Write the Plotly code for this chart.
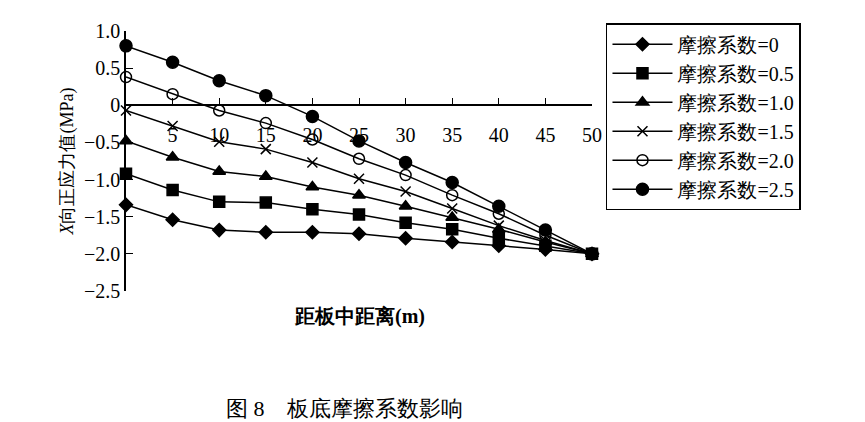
import plotly.graph_objects as go

x = [0, 5, 10, 15, 20, 25, 30, 35, 40, 45, 50]
names = ["摩擦系数=0", "摩擦系数=0.5", "摩擦系数=1.0", "摩擦系数=1.5", "摩擦系数=2.0", "摩擦系数=2.5"]
s0 = [-1.34, -1.54, -1.68, -1.71, -1.71, -1.73, -1.79, -1.84, -1.89, -1.94, -2.0]
s05 = [-0.92, -1.14, -1.30, -1.31, -1.40, -1.47, -1.58, -1.67, -1.79, -1.89, -2.0]
s10 = [-0.48, -0.70, -0.89, -0.96, -1.10, -1.21, -1.36, -1.51, -1.67, -1.84, -2.0]
s15 = [-0.07, -0.28, -0.49, -0.59, -0.77, -0.99, -1.16, -1.39, -1.62, -1.82, -2.0]
s20 = [0.38, 0.15, -0.07, -0.24, -0.46, -0.72, -0.94, -1.21, -1.46, -1.75, -2.0]
s25 = [0.80, 0.58, 0.33, 0.13, -0.15, -0.48, -0.77, -1.04, -1.36, -1.68, -2.0]
series = [s0, s05, s10, s15, s20, s25]
symbols = ["diamond", "square", "triangle-up", "x-thin", "circle-open", "circle"]
sizes = [10, 11, 11, 10, 11, 12]
yticks = [1.0, 0.5, 0, -0.5, -1.0, -1.5, -2.0, -2.5]
ylabels = ["1.0", "0.5", "0", "−0.5", "−1.0", "−1.5", "−2.0", "−2.5"]

font = "Liberation Serif, Times New Roman, serif"
fig = go.Figure()
for n, s, sym, sz in zip(names, series, symbols, sizes):
    fig.add_trace(go.Scatter(x=x, y=s, name=n, mode="lines+markers", cliponaxis=False,
                             line=dict(color="black", width=1.5),
                             marker=dict(symbol=sym, size=sz, color="black",
                                         line=dict(color="black", width=1.5))))
fig.update_layout(
    width=865, height=422, margin=dict(l=118, r=281, t=17, b=139),
    plot_bgcolor="white", paper_bgcolor="white",
    font=dict(family=font, size=17, color="black"),
    showlegend=True,
    legend=dict(x=1.03, y=1.03, xanchor="left", yanchor="top", bordercolor="black",
                borderwidth=1.5, font=dict(size=20), tracegroupgap=0, itemwidth=60),
    xaxis=dict(range=[0, 50], tickvals=x[1:], anchor="free", position=2.5/3.5,
               showline=True, linecolor="black", linewidth=1.5, ticks="inside",
               ticklen=7, tickcolor="black", showgrid=False, zeroline=False,
               tickfont=dict(size=20), ticklabelstandoff=12),
    yaxis=dict(range=[-2.5, 1.0], tickvals=yticks, ticktext=ylabels, showline=True,
               linecolor="black", linewidth=1.5, ticks="inside", ticklen=7,
               tickcolor="black", showgrid=False, zeroline=False, tickfont=dict(size=20),
               title=dict(text="<i>X</i>向正应力值(MPa)", font=dict(size=18), standoff=6)),
)
fig.add_annotation(text="<b>距板中距离(m)</b>", x=0.5, y=-0.15, xref="paper", yref="paper",
                   showarrow=False, font=dict(size=20))
fig.add_annotation(text="图 8　板底摩擦系数影响", x=405/865, y=-(403-283)/266, xref="paper",
                   yref="paper", showarrow=False, font=dict(size=22),
                   xanchor="center", yanchor="middle")
fig.write_html("out.html")
